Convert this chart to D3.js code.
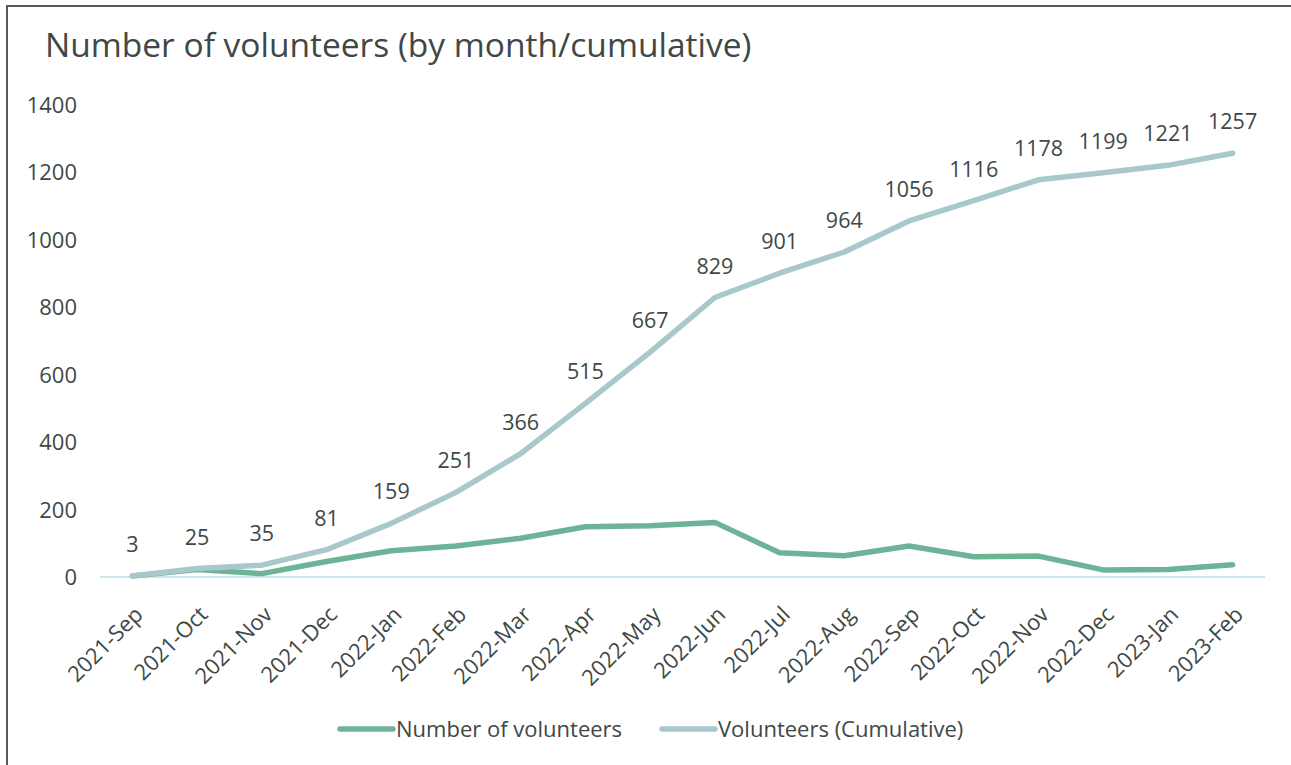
<!DOCTYPE html>
<html>
<head>
<meta charset="utf-8">
<script src="https://cdn.jsdelivr.net/npm/d3@7"></script>
<style>
  body { margin: 0; background: #fff; }
  svg { display: block; font-family: "Open Sans", "Noto Sans", sans-serif; }
</style>
</head>
<body>
<svg id="chart" width="1291" height="765"></svg>
<script>
// Volunteers per month and running total
const months = ['2021-Sep', '2021-Oct', '2021-Nov', '2021-Dec', '2022-Jan', '2022-Feb',
    '2022-Mar', '2022-Apr', '2022-May', '2022-Jun', '2022-Jul', '2022-Aug',
    '2022-Sep', '2022-Oct', '2022-Nov', '2022-Dec', '2023-Jan', '2023-Feb'];
const monthly = [3, 22, 10, 46, 78, 92, 115, 149, 152, 162, 72, 63, 92, 60, 62, 21, 22, 36];
const cumulative = [3, 25, 35, 81, 159, 251, 366, 515, 667, 829, 901, 964, 1056, 1116, 1178, 1199, 1221, 1257];
const yTicks = [0, 200, 400, 600, 800, 1000, 1200, 1400];

const title = 'Number of volunteers (by month/cumulative)';
const seriesNames = ['Number of volunteers', 'Volunteers (Cumulative)'];
const colors = ['#6db497', '#a8c8cc'];
const textColor = '#404846';

const svg = d3.select('#chart');

// Frame (left and top edges visible)
svg.append('path')
    .attr('d', 'M7,765 V6 H1291')
    .attr('fill', 'none')
    .attr('stroke', '#595959')
    .attr('stroke-width', 2);

svg.append('text')
    .attr('x', 45)
    .attr('y', 57)
    .style('fill', textColor)
    .style('font-size', '33.5px')
    .text(title);

const x = d3.scaleBand()
    .domain(months)
    .range([100, 1265]);
const y = d3.scaleLinear()
    .domain([0, 1400])
    .range([577, 105]);
const cx = d => x(d) + x.bandwidth() / 2;

// Y tick labels
svg.append('g')
    .selectAll('text')
    .data(yTicks)
    .enter()
    .append('text')
    .attr('x', 77)
    .attr('y', d => y(d) + 8)
    .attr('text-anchor', 'end')
    .style('fill', textColor)
    .style('font-size', '22px')
    .text(d => d);

// Baseline
svg.append('line')
    .attr('x1', 100)
    .attr('x2', 1265)
    .attr('y1', y(0))
    .attr('y2', y(0))
    .attr('stroke', '#cfe6f1')
    .attr('stroke-width', 2);

// X labels, rotated
svg.append('g')
    .selectAll('text')
    .data(months)
    .enter()
    .append('text')
    .attr('transform', d => `translate(${cx(d) + 1}, ${y(0) + 28}) rotate(-45)`)
    .attr('text-anchor', 'end')
    .attr('dy', '0.7em')
    .style('fill', textColor)
    .style('font-size', '22px')
    .text(d => d);

const line = d3.line()
    .x((d, i) => cx(months[i]))
    .y(d => y(d));

[monthly, cumulative].forEach((vals, k) => {
    svg.append('path')
        .datum(vals)
        .attr('d', line)
        .attr('fill', 'none')
        .attr('stroke', colors[k])
        .attr('stroke-width', 5.5)
        .attr('stroke-linecap', 'round')
        .attr('stroke-linejoin', 'round');
});

// Data labels for cumulative series
svg.append('g')
    .selectAll('text')
    .data(cumulative)
    .enter()
    .append('text')
    .attr('x', (d, i) => cx(months[i]))
    .attr('y', d => y(d) - 24)
    .attr('text-anchor', 'middle')
    .style('fill', textColor)
    .style('font-size', '21.5px')
    .text(d => d);

// Legend
const legendItems = [
    { name: seriesNames[0], color: colors[0], x: 338 },
    { name: seriesNames[1], color: colors[1], x: 660 }
];
const legend = svg.append('g');
legendItems.forEach(item => {
    legend.append('line')
        .attr('x1', item.x + 2)
        .attr('x2', item.x + 55)
        .attr('y1', 729)
        .attr('y2', 729)
        .attr('stroke', item.color)
        .attr('stroke-width', 5.5)
        .attr('stroke-linecap', 'round');
    legend.append('text')
        .attr('x', item.x + 58)
        .attr('y', 737)
        .style('fill', textColor)
        .style('font-size', '22px')
        .text(item.name);
});
</script>
</body>
</html>
